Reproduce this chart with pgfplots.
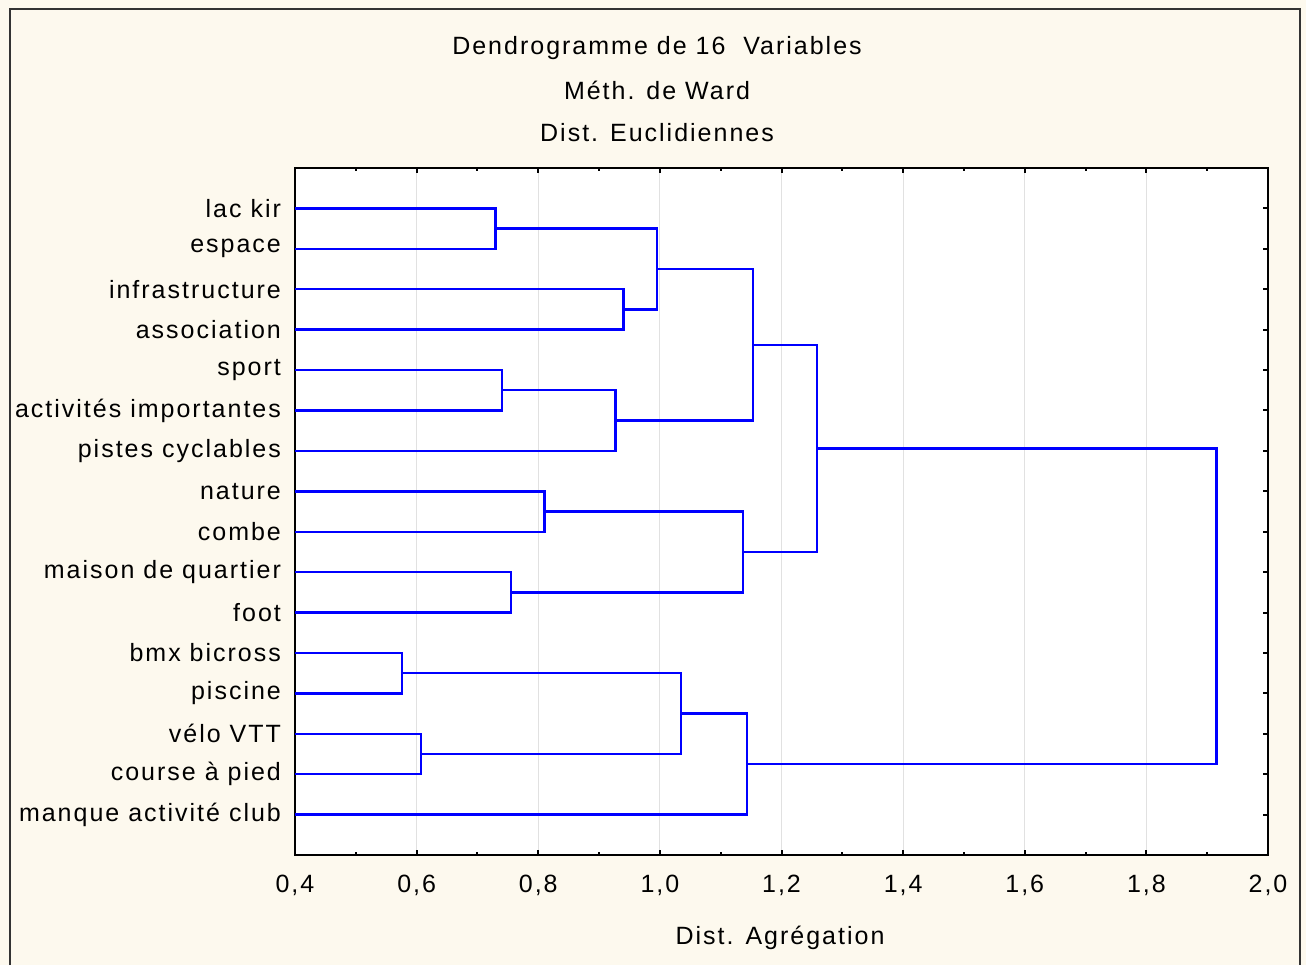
\documentclass[border=0pt]{standalone}
\usepackage{pgfplots}
\pgfplotsset{compat=1.18}
\usepackage{fontspec}
\setmainfont{Liberation Sans}[LetterSpace=8]
\definecolor{bgcream}{RGB}{253,249,238}
\definecolor{dendblue}{RGB}{0,0,255}
\definecolor{gridgray}{RGB}{225,225,225}

\begin{document}
\begin{tikzpicture}[x=1pt,y=1pt]
% page background and frame (bottom edge cut off, as in the reference)
\fill[bgcream] (0,0) rectangle (653,-482.5);
\draw[line width=1pt, black!80] (5,-482.5) -- (5,-4.25) -- (650,-4.25) -- (650,-482.5);

\node[font=\fontsize{12.5}{15}\selectfont] at (328.5,-24) {Dendrogramme de 16\ \ Variables};
\node[font=\fontsize{12.5}{15}\selectfont] at (328.5,-45) {Méth. de Ward};
\node[font=\fontsize{12.5}{15}\selectfont] at (328.5,-66.5) {Dist. Euclidiennes};
\node[font=\fontsize{12.5}{15}\selectfont] at (390,-469) {Dist. Agrégation};

\begin{axis}[
  at={(147.5pt,-427.5pt)}, anchor=south west,
  scale only axis, width=486.5pt, height=343.5pt,
  xmin=0.4, xmax=2.0, ymin=0, ymax=17,
  y dir=reverse,
  xtick={0.4,0.6,...,2.01}, minor x tick num=1,
  ytick={1,...,16},
  yticklabels={lac kir, espace, infrastructure, association, sport,
    activités importantes, pistes cyclables, nature, combe,
    maison de quartier, foot, bmx bicross, piscine, vélo VTT,
    course à pied, manque activité club},
  tick align=inside,
  major tick length=2.5pt, minor tick length=1.5pt,
  every tick/.style={black, line width=1pt},
  xmajorgrids, ymajorgrids=false,
  major x grid style={gridgray, line width=0.6pt},
  axis line style={line width=1.3pt},
  axis background/.style={fill=white},
  tick label style={font=\fontsize{12.5}{15}\selectfont},
  /pgf/number format/use comma,
  /pgf/number format/fixed,
  /pgf/number format/fixed zerofill,
  /pgf/number format/precision=1,
  /pgf/number format/assume math mode=true,
  xticklabel style={yshift=-6.5pt},
  yticklabel style={xshift=-3.5pt},
  dend/.style={dendblue, line width=1.2pt, mark=none, solid},
]
% each merge drawn as a bracket: (child1 height, y1) (h, y1) (h, y2) (child2 height, y2)
\addplot[dend] coordinates {(0.4,1) (0.73,1) (0.73,2) (0.4,2)};
\addplot[dend] coordinates {(0.4,3) (0.94,3) (0.94,4) (0.4,4)};
\addplot[dend] coordinates {(0.73,1.5) (0.995,1.5) (0.995,3.5) (0.94,3.5)};
\addplot[dend] coordinates {(0.4,5) (0.74,5) (0.74,6) (0.4,6)};
\addplot[dend] coordinates {(0.74,5.5) (0.927,5.5) (0.927,7) (0.4,7)};
\addplot[dend] coordinates {(0.995,2.5) (1.153,2.5) (1.153,6.25) (0.927,6.25)};
\addplot[dend] coordinates {(0.4,8) (0.81,8) (0.81,9) (0.4,9)};
\addplot[dend] coordinates {(0.4,10) (0.755,10) (0.755,11) (0.4,11)};
\addplot[dend] coordinates {(0.81,8.5) (1.137,8.5) (1.137,10.5) (0.755,10.5)};
\addplot[dend] coordinates {(1.153,4.375) (1.258,4.375) (1.258,9.5) (1.137,9.5)};
\addplot[dend] coordinates {(0.4,12) (0.576,12) (0.576,13) (0.4,13)};
\addplot[dend] coordinates {(0.4,14) (0.607,14) (0.607,15) (0.4,15)};
\addplot[dend] coordinates {(0.576,12.5) (1.035,12.5) (1.035,14.5) (0.607,14.5)};
\addplot[dend] coordinates {(1.035,13.5) (1.143,13.5) (1.143,16) (0.4,16)};
\addplot[dend] coordinates {(1.258,6.9375) (1.915,6.9375) (1.915,14.75) (1.143,14.75)};
\end{axis}
\end{tikzpicture}
\end{document}
